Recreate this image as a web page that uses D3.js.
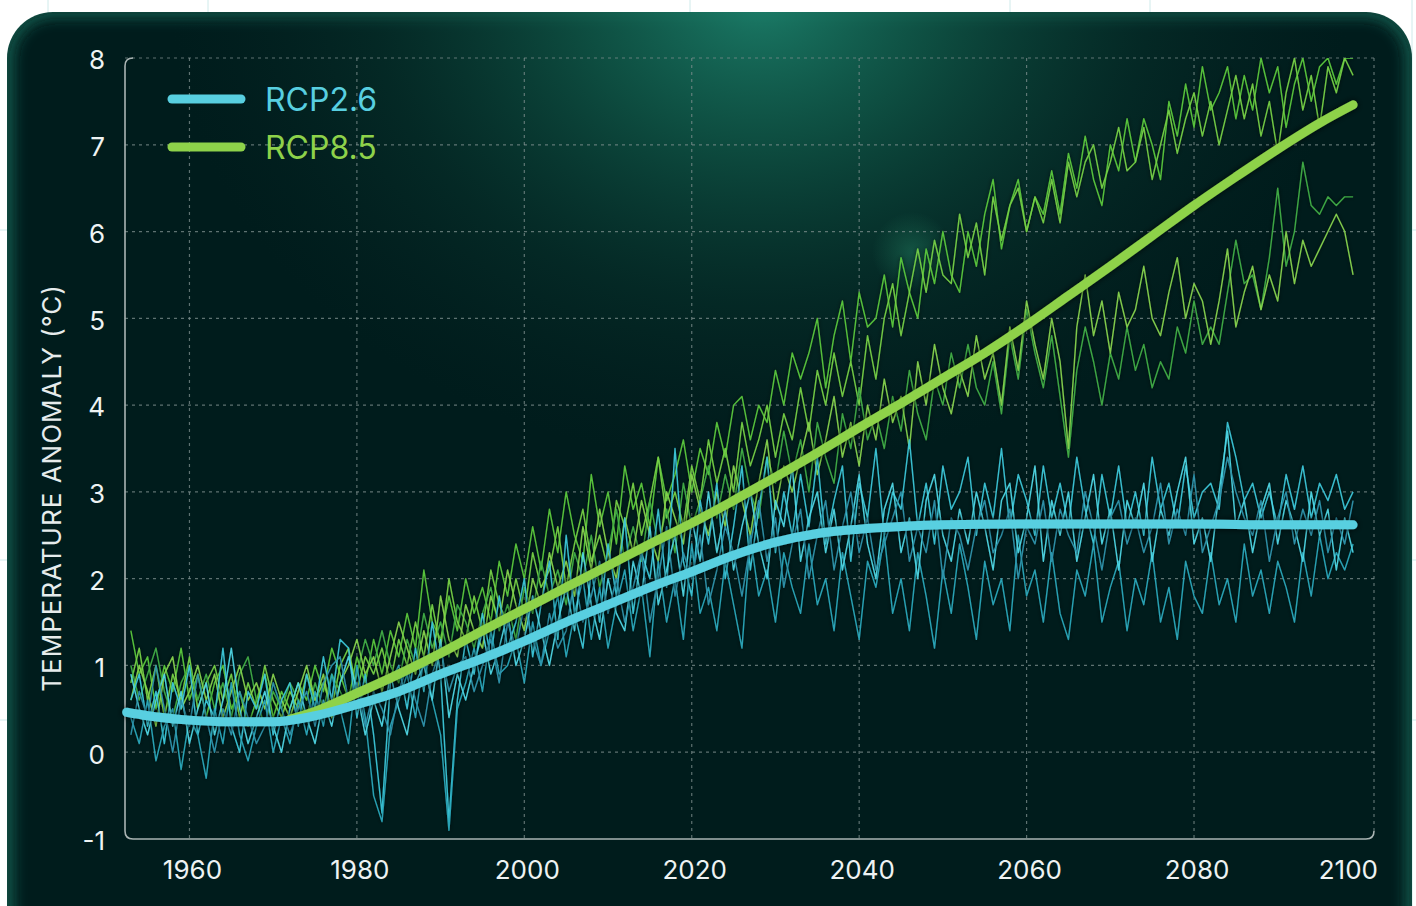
<!DOCTYPE html>
<html><head><meta charset="utf-8">
<script src="https://cdn.jsdelivr.net/npm/d3@7"></script>
<style>html,body{margin:0;padding:0;background:#ffffff;overflow:hidden}svg{display:block}</style>
</head><body>
<svg id="chart" width="1416" height="906"></svg>
<script>
// ---------- DATA ----------
const xTicks = [1960, 1980, 2000, 2020, 2040, 2060, 2080, 2100];
const yTicks = [-1, 0, 1, 2, 3, 4, 5, 6, 7, 8];
const seriesNames = ["RCP2.6", "RCP8.5"];
const memberStartYear = 1953; // members are yearly values 1953..2099

// smooth ensemble means [year, value]
const rcp26Mean = [[1952.5,0.46],[1955,0.42],[1960,0.37],[1965,0.35],[1970,0.35],[1975,0.42],[1980,0.55],[1985,0.70],[1990,0.90],[1995,1.08],[2000,1.28],[2005,1.50],[2010,1.70],[2015,1.90],[2020,2.08],[2025,2.27],[2030,2.42],[2035,2.52],[2040,2.57],[2045,2.60],[2050,2.62],[2060,2.63],[2070,2.63],[2080,2.63],[2090,2.62],[2099,2.62]];
const rcp85Mean = [[1972,0.38],[1975,0.47],[1980,0.68],[1985,0.90],[1990,1.14],[1995,1.40],[2000,1.65],[2005,1.90],[2010,2.15],[2015,2.40],[2020,2.64],[2025,2.90],[2030,3.17],[2035,3.45],[2040,3.74],[2045,4.02],[2050,4.31],[2055,4.60],[2060,4.92],[2065,5.26],[2070,5.60],[2075,5.95],[2080,6.30],[2085,6.63],[2090,6.95],[2095,7.25],[2099,7.46]];

// individual RCP2.6 runs (yearly, 1953..2099)
const rcp26Run1 = [0.6,0.9,0.3,0.7,0.1,0.8,0.5,1.0,0.2,0.6, 0.4,1.2,0.3,0.0,0.7,0.5,0.9,0.2,0.6,0.8, 0.3,0.9,0.5,1.1,0.6,1.3,1.2,0.4,0.9,0.2, -0.7,0.8,1.0,0.5,1.2,0.7,1.5,0.9,-0.8,0.6, 1.3,0.9,1.6,1.1,1.8,1.2,1.5,2.0,1.1,1.7, 2.2,1.3,2.5,1.6,1.2,2.1,1.5,2.4,1.8,2.7, 1.6,2.3,2.0,2.8,1.9,3.5,2.2,1.8,2.9,2.4, 3.1,2.0,2.6,3.3,2.1,2.8,3.4,2.3,3.0,2.5, 3.2,2.6,3.4,2.4,2.9,3.3,2.2,3.1,2.7,3.5, 2.5,3.0,2.8,3.6,2.6,3.1,2.4,3.3,2.8,3.0, 3.4,2.5,3.1,2.7,3.5,2.6,3.2,2.9,2.5,3.3, 2.7,3.1,2.6,3.4,2.8,2.4,3.2,2.7,3.3,2.6, 3.0,2.5,3.4,2.8,3.1,2.6,3.3,2.7,3.0,3.1, 2.8,3.8,3.4,2.9,3.1,2.7,3.0,2.6,3.2,2.8, 3.3,2.7,3.1,2.9,3.2,2.8,3.0];
const rcp26Run2 = [0.4,0.1,0.6,-0.1,0.3,0.5,-0.2,0.4,0.2,-0.3, 0.5,0.1,0.8,0.2,-0.1,0.3,0.6,0.0,0.4,0.1, 0.6,0.2,0.7,0.3,0.9,0.5,0.1,1.0,0.4,-0.5, -0.8,0.3,0.6,0.9,0.4,1.1,0.6,0.2,-0.9,0.5, 0.8,1.2,0.7,1.4,0.9,1.0,1.3,0.8,1.5,1.0, 1.4,1.8,1.1,1.6,2.0,1.3,1.9,1.2,1.7,2.1, 1.4,1.9,1.1,2.2,1.5,2.0,1.3,2.4,1.6,1.9, 1.4,2.2,1.7,1.2,2.5,1.8,2.1,1.5,2.3,1.9, 1.6,2.4,1.7,2.0,1.4,2.3,1.8,1.3,2.2,1.9, 2.5,1.6,2.0,1.4,2.3,1.8,1.2,2.1,1.6,2.4, 1.9,1.3,2.2,1.7,2.0,1.4,2.5,1.8,2.1,1.5, 2.3,1.6,1.3,2.1,1.8,2.4,1.5,1.9,2.2,1.4, 2.0,1.7,2.3,1.5,1.9,1.3,2.2,1.8,1.6,2.3, 1.7,2.0,1.5,2.4,1.8,2.1,1.6,2.2,1.9,1.5, 2.3,1.8,2.5,2.0,2.3,2.1,2.4];
const rcp26Run3 = [0.9,0.5,0.2,0.6,0.9,0.3,0.7,0.1,0.5,0.8, 0.2,0.6,1.2,0.5,0.1,0.4,0.7,0.3,0.0,0.5, 0.8,0.4,0.1,0.6,0.3,0.8,1.1,0.7,0.2,0.6, 0.3,0.9,0.5,0.2,0.8,1.0,0.6,1.3,0.4,0.9, 0.6,1.0,1.4,0.9,1.2,1.6,1.0,1.3,1.8,1.4, 1.0,1.5,1.9,1.4,2.3,1.7,1.3,2.0,1.6,1.4, 2.2,1.8,2.6,1.7,2.1,2.5,1.8,2.7,2.2,3.0, 2.3,2.8,2.1,2.6,3.0,2.4,2.0,2.9,2.6,3.3, 2.2,2.7,3.0,2.3,2.8,2.1,2.6,3.2,2.4,2.0, 2.8,3.1,2.3,2.7,2.0,2.9,3.2,2.5,2.2,2.8, 2.4,3.0,2.6,2.1,2.9,3.1,2.3,2.7,3.3,2.2, 2.9,2.5,3.0,2.2,2.7,3.2,2.4,2.8,2.1,2.9, 2.6,3.1,2.2,2.8,2.5,3.0,3.4,2.4,2.7,2.2, 3.0,3.7,2.6,2.9,2.3,2.8,3.1,2.4,2.9,2.6, 2.2,3.0,2.5,2.8,2.1,2.7,2.3];
const rcp26Run4 = [0.2,0.7,0.4,1.0,0.5,0.0,0.6,0.3,0.9,0.4, 0.0,0.5,0.2,0.7,0.4,0.1,0.3,0.8,0.5,0.2, 0.5,0.7,0.3,0.8,1.0,1.1,0.6,0.8,0.3,0.7, 0.5,0.2,0.7,1.0,0.6,0.3,0.9,1.2,0.7,1.0, 1.1,0.7,1.0,1.3,0.8,1.5,1.2,1.7,1.3,1.0, 1.6,1.2,1.4,2.0,1.5,1.8,2.2,1.6,2.0,1.5, 1.9,2.3,1.5,2.0,2.6,1.8,2.3,2.0,2.5,1.7, 2.1,2.6,2.3,1.8,2.4,2.9,2.2,2.7,1.9,2.4, 2.8,2.0,2.5,2.9,2.1,2.6,3.0,2.3,2.7,2.1, 2.4,2.7,3.0,2.2,2.6,2.3,2.9,2.0,2.7,2.5, 2.1,2.6,2.9,2.3,2.5,2.8,2.0,2.6,2.4,2.9, 2.2,2.8,2.5,2.3,3.0,2.6,2.1,2.7,2.9,2.4, 2.7,2.3,2.6,3.1,2.4,2.8,2.5,3.2,2.3,2.6, 2.9,3.4,3.0,2.7,2.5,2.9,2.2,2.7,3.0,2.4, 2.8,2.5,2.9,2.3,2.7,2.4,2.9];

// individual RCP8.5 runs (yearly, 1953..2099)
const rcp85Run1 = [1.4,0.9,1.1,0.5,1.0,0.7,1.2,0.6,0.9,0.4, 0.8,1.0,0.5,0.7,0.3,0.6,0.9,0.4,0.7,0.5, 0.8,0.6,1.0,0.7,1.2,0.9,0.6,1.1,0.8,1.3, 0.9,1.4,1.1,1.6,1.2,2.1,1.5,1.3,1.8,1.4, 2.0,1.6,1.9,1.5,2.2,1.8,2.4,2.0,2.6,2.1, 2.8,2.3,3.0,2.5,2.2,3.2,2.6,3.0,2.4,3.3, 2.8,3.1,2.6,3.4,2.9,3.2,3.6,3.0,3.5,3.2, 3.8,3.4,4.0,4.1,3.6,4.0,3.8,4.4,4.0,4.6, 4.3,4.6,5.0,4.2,4.8,5.2,4.5,5.3,4.9,5.0, 5.5,4.9,5.7,5.3,5.0,5.8,5.4,6.0,5.5,5.3, 6.0,5.6,6.2,6.6,5.8,6.3,6.6,6.0,6.4,6.2, 6.7,6.2,6.9,6.5,7.1,6.6,6.3,7.0,6.7,7.3, 6.8,7.3,7.0,6.6,7.5,7.1,7.7,7.2,7.9,7.4, 7.6,7.9,7.3,7.8,7.4,8.0,7.6,7.9,7.2,7.7, 8.0,7.5,7.9,8.0,7.7,8.0,8.0];
const rcp85Run2 = [0.8,1.2,0.6,1.0,0.4,0.9,0.6,1.1,0.5,0.8, 1.0,0.6,0.9,0.4,0.8,0.5,1.0,0.6,0.4,0.7, 0.5,0.9,0.6,0.8,0.5,1.0,1.2,0.7,1.1,0.9, 1.2,0.8,1.3,1.0,1.5,1.1,1.7,1.2,2.0,1.5, 1.3,1.8,1.4,2.1,1.7,1.5,2.0,1.6,2.3,1.9, 2.1,2.6,1.9,2.4,2.8,2.2,2.5,2.1,2.9,2.6, 3.1,2.5,2.9,3.4,2.7,3.0,2.6,3.3,2.9,3.6, 3.1,3.5,3.0,3.8,3.3,3.6,4.0,3.4,3.9,3.6, 4.2,3.7,4.4,4.0,4.6,4.1,4.5,4.0,4.8,4.3, 5.0,5.4,4.8,5.3,5.8,5.3,5.9,5.5,5.4,6.2, 5.7,6.1,5.5,6.4,5.9,6.3,6.5,6.0,6.4,6.1, 6.6,6.1,6.8,6.4,6.8,7.0,6.5,6.8,7.2,6.7, 6.8,7.2,6.6,7.0,7.4,6.9,7.3,7.6,7.1,7.5, 7.0,7.4,7.8,7.3,7.7,7.1,7.5,6.9,7.6,8.0, 7.4,7.8,7.2,7.9,7.6,8.0,7.8];
const rcp85Run3 = [1.0,0.6,0.9,1.2,0.7,0.4,0.8,1.0,0.6,0.9, 0.5,0.8,0.4,0.9,1.1,0.6,0.3,0.7,0.5,0.8, 0.6,0.4,0.8,0.5,0.9,0.7,0.5,0.9,1.3,1.0, 1.4,1.0,0.8,1.3,1.0,1.6,1.2,1.5,1.1,1.7, 1.5,1.2,1.6,1.9,1.4,1.7,1.3,1.9,1.6,2.2, 1.8,2.1,1.7,2.3,2.0,2.5,1.9,2.3,2.8,2.2, 2.6,2.2,2.9,2.4,2.8,2.3,3.1,2.6,2.9,3.3, 2.7,3.2,2.8,3.5,3.0,2.7,3.4,3.1,3.7,3.2, 3.6,3.0,3.8,3.4,3.1,3.9,3.5,4.2,3.6,3.9, 3.5,4.1,3.7,4.4,3.9,3.6,4.3,4.0,4.6,4.2, 4.7,4.2,4.0,4.5,3.9,4.8,4.3,5.1,4.6,4.2, 4.8,4.1,3.4,4.4,4.9,4.5,4.0,4.6,4.3,4.9, 4.4,4.7,4.2,4.5,4.3,4.9,4.6,5.2,4.7,4.9, 4.7,5.3,5.9,5.4,5.5,5.1,5.7,6.5,5.6,6.0, 6.8,6.3,6.2,6.4,6.3,6.4,6.4];
const rcp85Run4 = [0.6,1.0,0.7,0.3,0.9,1.1,0.5,0.7,1.0,0.6, 0.9,0.4,0.7,1.0,0.6,0.8,0.5,0.9,0.6,0.4, 0.7,1.0,0.6,0.9,0.4,0.8,1.0,1.3,0.9,1.1, 0.7,1.1,1.5,1.2,0.9,1.4,1.0,1.8,1.3,1.1, 1.7,1.4,1.2,1.8,1.5,2.1,1.7,1.4,2.0,1.7, 2.3,1.9,2.2,1.8,2.6,2.1,2.8,2.3,2.0,2.7, 2.3,2.9,2.5,2.2,3.0,2.7,2.4,3.2,2.8,2.5, 3.0,2.6,3.3,2.9,2.5,3.1,3.6,2.8,3.3,3.0, 3.4,3.8,3.2,3.6,4.1,3.4,3.8,3.3,4.0,3.6, 4.3,3.8,4.1,3.5,4.5,4.0,4.7,4.2,3.9,4.4, 4.1,4.8,4.3,4.6,4.0,4.9,4.4,5.2,4.7,4.3, 5.0,4.5,3.5,4.9,5.5,4.8,5.2,4.6,5.3,4.9, 5.1,5.6,5.0,4.8,5.3,5.7,5.0,5.4,5.2,4.7, 5.2,5.8,4.9,5.3,5.6,5.1,5.5,5.2,6.0,5.4, 5.9,5.6,5.8,6.0,6.2,6.0,5.5];

const rcp26Runs = [rcp26Run1, rcp26Run2, rcp26Run3, rcp26Run4];
const rcp85Runs = [rcp85Run1, rcp85Run2, rcp85Run3, rcp85Run4];

// ---------- STYLE ----------
const W = 1416, H = 906;
const plot = {left: 125, right: 1374, top: 58, bottom: 839};
const blueMain = "#58cfe0", greenMain = "#8ed24a";
const blueRunColors = ["#3cc6d8", "#2aa8bb", "#4fd6e4", "#2f93ac"];
const greenRunColors = ["#5bc83d", "#76d046", "#40ad46", "#87d34e"];

const svg = d3.select("#chart");
const defs = svg.append("defs");

const rg = defs.append("radialGradient").attr("id","topGlow").attr("gradientUnits","userSpaceOnUse")
  .attr("cx",760).attr("cy",0).attr("r",620)
  .attr("gradientTransform","translate(760,0) scale(0.95,0.75) translate(-760,0)");
rg.append("stop").attr("offset","0%").attr("stop-color","#1c7f6a").attr("stop-opacity",0.95);
rg.append("stop").attr("offset","30%").attr("stop-color","#13614f").attr("stop-opacity",0.72);
rg.append("stop").attr("offset","65%").attr("stop-color","#0d4439").attr("stop-opacity",0.32);
rg.append("stop").attr("offset","100%").attr("stop-color","#0a2a28").attr("stop-opacity",0);
const spot = defs.append("radialGradient").attr("id","spot");
spot.append("stop").attr("offset","0%").attr("stop-color","#1d6e55").attr("stop-opacity",0.6);
spot.append("stop").attr("offset","100%").attr("stop-color","#1d6e55").attr("stop-opacity",0);
const edge = defs.append("filter").attr("id","edgeBlur").attr("filterUnits","userSpaceOnUse")
  .attr("x",-50).attr("y",-50).attr("width",1520).attr("height",1050);
edge.append("feGaussianBlur").attr("stdDeviation",6);
const sh = defs.append("filter").attr("id","lineShadow").attr("filterUnits","userSpaceOnUse")
  .attr("x",0).attr("y",0).attr("width",1416).attr("height",906);
sh.append("feDropShadow").attr("dx",0).attr("dy",0).attr("stdDeviation",2).attr("flood-color","#000").attr("flood-opacity",0.7);
const glow = defs.append("filter").attr("id","meanGlow").attr("filterUnits","userSpaceOnUse")
  .attr("x",0).attr("y",0).attr("width",1416).attr("height",906);
glow.append("feDropShadow").attr("dx",0).attr("dy",0).attr("stdDeviation",3).attr("flood-color","#000").attr("flood-opacity",0.8);
const clip = defs.append("clipPath").attr("id","plotClip");
clip.append("rect").attr("x",plot.left).attr("y",plot.top).attr("width",plot.right-plot.left).attr("height",plot.bottom-plot.top);
const panelClip = defs.append("clipPath").attr("id","panelClip");
panelClip.append("rect").attr("x",7).attr("y",12).attr("width",1405).attr("height",940).attr("rx",46);

// page background faint grid
const bg = svg.append("g");
[48, 208, 690, 1010, 1150, 1412].forEach(x => bg.append("line").attr("x1",x).attr("x2",x).attr("y1",0).attr("y2",H).attr("stroke","#cfeaea").attr("stroke-width",1));
[230, 560, 720].forEach(y => bg.append("line").attr("x1",0).attr("x2",W).attr("y1",y).attr("y2",y).attr("stroke","#cfeaea").attr("stroke-width",1));

// panel
svg.append("rect").attr("x",7).attr("y",12).attr("width",1405).attr("height",940).attr("rx",46).attr("fill","#0f4d43");
const pan = svg.append("g").attr("clip-path","url(#panelClip)");
pan.append("rect").attr("x",15).attr("y",19).attr("width",1389).attr("height",926).attr("rx",40).attr("fill","#061f1f").attr("filter","url(#edgeBlur)");
pan.append("rect").attr("x",7).attr("y",12).attr("width",1405).attr("height",700).attr("fill","url(#topGlow)");
pan.append("circle").attr("cx",912).attr("cy",252).attr("r",40).attr("fill","url(#spot)");

// scales
const x = d3.scaleLinear().domain([1952.3, 2101.5]).range([plot.left, plot.right]);
const y = d3.scaleLinear().domain([-1, 8]).range([plot.bottom, plot.top]);

// grid
const grid = svg.append("g");
const gridStyle = sel => sel.attr("stroke","#7d8f8e").attr("stroke-opacity",0.75).attr("stroke-width",1.2).attr("stroke-dasharray","3,4");
grid.selectAll("line.h").data(yTicks.filter(v => v > -1)).join("line")
  .attr("x1",plot.left).attr("x2",plot.right).attr("y1",d=>y(d)).attr("y2",d=>y(d)).call(gridStyle);
grid.selectAll("line.v").data(xTicks.slice(0, -1)).join("line")
  .attr("x1",d=>x(d)).attr("x2",d=>x(d)).attr("y1",plot.top).attr("y2",plot.bottom).call(gridStyle);
grid.append("line").attr("x1",plot.right).attr("x2",plot.right).attr("y1",plot.top).attr("y2",plot.bottom-8).call(gridStyle);
// frame: solid left & bottom
const r = 8;
grid.append("path")
  .attr("d",`M${plot.left+r},${plot.top} Q${plot.left},${plot.top} ${plot.left},${plot.top+r} L${plot.left},${plot.bottom-r} Q${plot.left},${plot.bottom} ${plot.left+r},${plot.bottom} L${plot.right-r},${plot.bottom} Q${plot.right},${plot.bottom} ${plot.right},${plot.bottom-r}`)
  .attr("fill","none").attr("stroke","#a9b4b3").attr("stroke-width",1.6);

// runs
const lineGen = d3.line().x(d=>x(d[0])).y(d=>y(d[1]));
const toPts = arr => arr.map((v,i) => [memberStartYear + i, v]);
const runs = svg.append("g").attr("clip-path","url(#plotClip)");
const runsInner = runs.append("g").attr("filter","url(#lineShadow)");
rcp85Runs.forEach((arr,i) => runsInner.append("path").attr("d", lineGen(toPts(arr)))
  .attr("fill","none").attr("stroke",greenRunColors[i]).attr("stroke-width",1.4).attr("stroke-linejoin","round").attr("opacity",0.95));
rcp26Runs.forEach((arr,i) => runsInner.append("path").attr("d", lineGen(toPts(arr)))
  .attr("fill","none").attr("stroke",blueRunColors[i]).attr("stroke-width",1.4).attr("stroke-linejoin","round").attr("opacity",0.95));

// means
const smooth = d3.line().x(d=>x(d[0])).y(d=>y(d[1])).curve(d3.curveMonotoneX);
const means = svg.append("g").attr("filter","url(#meanGlow)");
means.append("path").attr("d",smooth(rcp85Mean)).attr("fill","none").attr("stroke",greenMain).attr("stroke-width",9).attr("stroke-linecap","round");
means.append("path").attr("d",smooth(rcp26Mean)).attr("fill","none").attr("stroke",blueMain).attr("stroke-width",9).attr("stroke-linecap","round");

// axes labels
const font = "Inter, 'Liberation Sans', sans-serif";
const lab = svg.append("g").attr("font-family",font).attr("fill","#eef3f3");
lab.selectAll("text.y").data(yTicks).join("text")
  .attr("x",105).attr("y",d=>y(d)+2).attr("dy","0.36em").attr("text-anchor","end")
  .attr("font-size",26).text(d=>d);
lab.selectAll("text.x").data(xTicks).join("text")
  .attr("x",(d,i)=> i===xTicks.length-1 ? 1378 : x(d)+3).attr("y",870).attr("dy","0.36em")
  .attr("text-anchor",(d,i)=> i===xTicks.length-1 ? "end" : "middle")
  .attr("font-size",26).text(d=>d);
lab.append("text").attr("transform","translate(61,488) rotate(-90)").attr("text-anchor","middle")
  .attr("font-size",26).attr("letter-spacing",1).attr("fill","#e6ecec").text("TEMPERATURE ANOMALY (°C)");

// legend
const leg = svg.append("g").attr("font-family",font);
const legColors = [blueMain, greenMain];
seriesNames.forEach((name,i) => {
  const ly = 99 + i*48;
  leg.append("line").attr("x1",172).attr("x2",241).attr("y1",ly).attr("y2",ly)
    .attr("stroke",legColors[i]).attr("stroke-width",9).attr("stroke-linecap","round");
  leg.append("text").attr("x",265).attr("y",ly).attr("dy","0.36em").attr("font-size",32)
    .attr("fill",legColors[i]).text(name);
});
</script>
</body></html>
